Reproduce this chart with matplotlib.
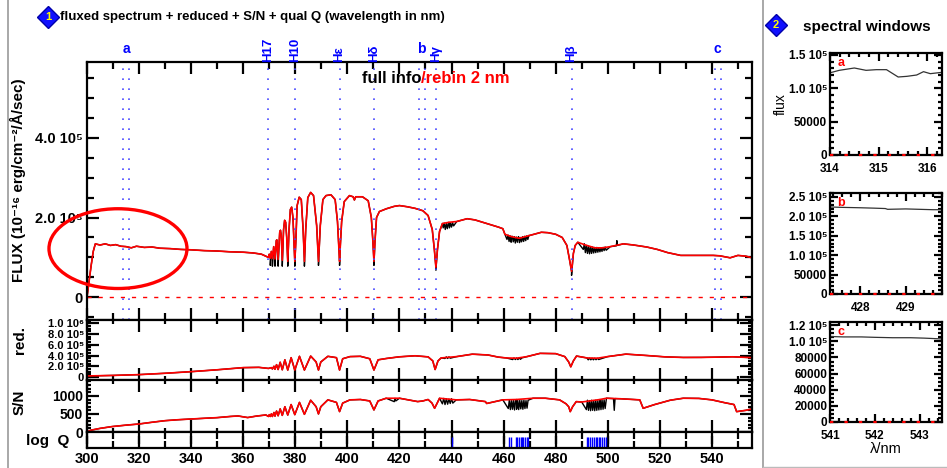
import matplotlib
matplotlib.use("Agg")
import matplotlib.pyplot as plt
import numpy as np
from matplotlib.ticker import MultipleLocator, FuncFormatter, NullFormatter
from matplotlib.patches import Ellipse
from matplotlib.lines import Line2D

plt.rcParams['font.family'] = ['Liberation Sans', 'DejaVu Sans']
plt.rcParams['font.weight'] = 'bold'

W, H = 947, 468

# ---- rebinned flux (units of 1e5) ----
flux_wl = [300.0, 300.8, 301.6, 302.4, 303.2, 305.0, 307.0, 309.0, 311.0, 313.0, 315.0, 317.0,
           319.0, 322.0, 325.0, 328.0, 332.0, 336.0, 340.0, 345.0, 350.0, 355.0, 360.0, 364.0,
           367.0, 369.7, 370.0, 370.4, 370.8, 371.2, 371.7, 372.2, 372.7, 372.9, 373.4, 374.0,
           374.3, 374.6, 375.0, 375.5, 375.9, 376.3, 376.7, 377.1, 377.6, 378.1, 378.6, 379.1,
           379.5, 379.8, 380.2, 380.7, 381.5, 382.3, 383.0, 383.5, 384.0, 384.8, 385.9, 387.0,
           388.2, 388.9, 389.6, 390.6, 391.8, 393.7, 395.3, 396.2, 396.7, 397.0, 397.3, 397.8,
           398.8, 400.8, 402.2, 402.7, 403.2, 405.8, 408.0, 409.2, 409.8, 410.2, 410.6, 411.2,
           412.3, 415.0, 418.0, 420.0, 423.0, 426.0, 429.0, 431.0, 432.6, 433.4, 434.0, 434.6,
           435.4, 436.5, 439.0, 442.0, 446.0, 449.0, 452.0, 455.0, 458.0, 459.7, 460.5, 463.0,
           466.0, 470.0, 474.5, 477.0, 480.0, 482.5, 484.3, 485.3, 486.1, 486.8, 487.5, 488.5,
           491.0, 495.0, 498.0, 501.0, 506.0, 510.0, 515.0, 519.0, 523.0, 528.0, 535.0, 540.5,
           543.0, 547.0, 550.0, 553.0, 555.5]
flux_val = [0.00, 0.40, 0.80, 1.15, 1.34, 1.31, 1.34, 1.30, 1.32, 1.28, 1.27, 1.24,
            1.28, 1.25, 1.26, 1.23, 1.22, 1.20, 1.19, 1.17, 1.16, 1.14, 1.13, 1.11,
            1.08, 1.00, 1.08, 0.98, 1.15, 0.97, 1.27, 0.96, 1.42, 1.44, 0.95, 1.62,
            1.68, 1.55, 0.93, 1.70, 1.93, 1.88, 1.50, 0.90, 1.70, 2.20, 2.26, 2.00,
            1.40, 0.90, 1.40, 2.30, 2.51, 2.45, 1.70, 0.90, 1.70, 2.50, 2.63, 2.55,
            1.80, 0.90, 1.80, 2.45, 2.55, 2.57, 2.45, 1.90, 1.30, 0.90, 1.30, 1.90,
            2.40, 2.55, 2.52, 2.44, 2.52, 2.52, 2.42, 2.00, 1.40, 0.90, 1.40, 2.00,
            2.15, 2.22, 2.28, 2.30, 2.27, 2.23, 2.17, 2.05, 1.70, 1.20, 0.75, 1.20,
            1.65, 1.85, 1.88, 1.90, 1.97, 1.94, 1.88, 1.82, 1.76, 1.72, 1.58, 1.52,
            1.48, 1.55, 1.63, 1.62, 1.58, 1.50, 1.30, 0.95, 0.65, 1.10, 1.30, 1.38,
            1.32, 1.24, 1.24, 1.27, 1.34, 1.31, 1.26, 1.20, 1.12, 1.05, 1.05, 1.05,
            1.04, 0.99, 1.05, 1.03, 0.99]
# extra full-resolution points (noise, deeper line cores), units of 1e5
flux_noise_wl = [370.4, 371.2, 372.2, 373.4, 375.0, 377.1, 379.8, 383.5, 388.9, 397.0, 410.2,
                 434.0, 436.8, 437.2, 437.6, 438.0, 438.4, 438.8, 439.2, 439.6, 440.0, 440.4,
                 440.8, 461.3, 461.7, 462.1, 462.5, 462.9, 463.3, 463.7, 464.1, 464.5, 464.9,
                 465.3, 465.7, 466.1, 466.5, 466.9, 467.3, 467.7, 468.1, 468.5, 468.9, 469.3,
                 469.7, 486.1, 490.6, 491.0, 491.4, 491.8, 492.2, 492.6, 493.0, 493.4, 493.8,
                 494.2, 494.6, 495.0, 495.4, 495.8, 496.2, 496.6, 497.0, 497.4, 497.8, 498.2,
                 498.6, 499.0, 499.4, 503.3, 503.5, 503.7]
flux_noise_val = [0.80, 0.78, 0.78, 0.78, 0.78, 0.78, 0.78, 0.78, 0.80, 0.80, 0.80,
                  0.68, 1.74, 1.86, 1.70, 1.85, 1.72, 1.87, 1.74, 1.86, 1.76, 1.87,
                  1.79, 1.45, 1.56, 1.40, 1.54, 1.38, 1.53, 1.39, 1.52, 1.36, 1.51,
                  1.38, 1.52, 1.37, 1.50, 1.39, 1.52, 1.40, 1.53, 1.42, 1.54, 1.45,
                  1.55, 0.55, 1.20, 1.34, 1.12, 1.30, 1.10, 1.28, 1.09, 1.27, 1.10,
                  1.26, 1.11, 1.25, 1.12, 1.25, 1.13, 1.24, 1.14, 1.24, 1.15, 1.25,
                  1.17, 1.26, 1.18, 1.29, 1.42, 1.30]

# ---- reduced spectrum (units of 1e5) ----
red_wl = [300, 310, 320, 330, 340, 350, 360, 366, 369.7, 370.8, 371.2, 371.8, 372.2, 372.8,
          373.4, 374.2, 375.0, 376.0, 377.1, 378.4, 379.8, 381.6, 383.5, 385.9, 388.0, 388.9,
          389.8, 392.5, 395.8, 397.0, 398.2, 401.0, 405.0, 408.6, 410.2, 411.8, 415.0, 420.0,
          426.0, 431.0, 432.8, 433.7, 434.8, 436.0, 442.0, 448.0, 454.0, 458.0, 461.0, 465.0,
          469.0, 474.0, 480.0, 483.5, 485.0, 485.8, 486.8, 488.0, 492.0, 496.0, 500.0, 507.0,
          515.0, 522.0, 529.0, 536.0, 542.0, 548.0, 555.5]
red_val = [0.20, 0.30, 0.45, 0.70, 1.00, 1.35, 1.75, 1.80, 1.60, 1.75, 1.50, 2.00, 1.45, 2.30,
           1.40, 2.75, 1.35, 3.20, 1.30, 3.60, 1.30, 3.85, 1.30, 3.90, 2.80, 1.30,
           2.80, 3.85, 3.60, 1.30, 3.40, 3.80, 3.85, 3.40, 1.30, 3.20, 3.45, 3.76,
           3.95, 3.75, 3.00, 1.40, 3.00, 3.55, 3.80, 4.25, 4.10, 3.70, 3.55, 3.50,
           3.80, 4.40, 4.35, 3.80, 2.80, 1.90, 3.00, 3.90, 3.55, 3.50, 3.80, 4.26,
           4.00, 3.75, 3.64, 3.65, 3.70, 3.76, 3.60]
red_noise_wl = [437.5, 438.0, 438.5, 439.0, 439.5, 463.5, 464.0, 464.5, 465.0, 465.5, 466.0,
                466.5, 467.0, 492.5, 493.0, 493.5, 494.0, 494.5, 495.0, 495.5, 496.0, 496.5]
red_noise_val = [3.45, 3.75, 3.45, 3.75, 3.50, 3.25, 3.55, 3.25, 3.55, 3.25, 3.55,
                 3.30, 3.55, 3.20, 3.50, 3.20, 3.50, 3.20, 3.50, 3.22, 3.50, 3.25]

# ---- S/N ----
sn_wl = [300, 301.5, 305, 309.6, 315, 320, 325, 330, 335, 340, 345, 350, 355, 358, 361.7, 365,
         368.7, 369.7, 370.0, 370.4, 370.8, 371.2, 371.8, 372.2, 372.8, 373.4, 374.2, 375.0,
         376.0, 377.1, 378.4, 379.8, 381.6, 383.5, 385.9, 388.0, 388.9, 389.8, 392.5, 395.8,
         397.0, 398.2, 401.0, 405.0, 408.6, 410.2, 411.8, 414.9, 420.0, 427.0, 429.0, 431.0,
         432.5, 433.5, 434.5, 435.4, 441.8, 447.0, 453.0, 453.5, 456.0, 459.7, 465.0, 471.3,
         476.0, 481.5, 484.0, 485.0, 485.6, 486.5, 487.9, 490.0, 497.0, 499.5, 505.0, 512.3,
         513.6, 518.0, 524.0, 529.0, 535.0, 540.0, 543.0, 545.0, 548.5, 549.5, 553.0, 555.5]
sn_val = [0, 50, 100, 150, 190, 222, 270, 314, 340, 360, 380, 398, 430, 444, 400, 440,
          472, 430, 480, 430, 500, 430, 540, 440, 580, 450, 640, 460,
          700, 470, 760, 480, 820, 490, 880, 700, 500, 700, 890, 820,
          565, 800, 890, 900, 860, 611, 860, 935, 935, 842, 860, 900,
          800, 657, 800, 935, 890, 900, 842, 790, 830, 890, 900, 935,
          935, 890, 780, 700, 564, 700, 842, 830, 900, 935, 920, 890,
          657, 760, 880, 935, 930, 890, 842, 810, 760, 564, 600, 640]
sn_noise_wl = [418.0, 418.3, 418.6, 436.5, 437.0, 437.5, 438.0, 438.5, 439.0, 439.5, 440.0,
               440.5, 461.8, 462.2, 462.6, 463.0, 463.4, 463.8, 464.2, 464.6, 465.0, 465.4,
               465.8, 466.2, 466.6, 467.0, 467.4, 467.8, 468.2, 468.6, 469.0, 469.4,
               491.8, 492.2, 492.6, 493.0, 493.4, 493.8, 494.2, 494.6, 495.0, 495.4, 495.8,
               496.2, 496.6, 497.0, 497.4, 497.8, 498.2, 498.6, 499.0, 502.2, 502.5, 502.8]
sn_noise_val = [840, 930, 860, 780, 930, 760, 920, 770, 910, 790, 920,
                800, 650, 880, 620, 870, 630, 880, 610, 870, 630, 880,
                620, 880, 640, 870, 630, 880, 650, 870, 660, 880,
                620, 880, 600, 870, 590, 880, 600, 870, 590, 880, 600,
                870, 610, 880, 620, 890, 630, 890, 650, 925, 600, 925]

# ---- quality flags ----
q_wl = [440.0, 462.2, 463.0, 464.6, 465.2, 465.8, 466.5, 467.0, 467.6, 468.2, 468.8, 469.4,
        492.0, 492.6, 493.3, 494.0, 494.6, 495.3, 496.0, 496.6, 497.2, 497.9, 498.6, 499.3]
q_val = [1.0] * len(q_wl)

# ---- spectral windows (flux units of 1e5) ----
win_a_wl = [314.0, 314.19, 314.5, 314.74, 314.95, 315.16, 315.4, 315.58, 315.78, 315.92, 316.06, 316.3]
win_a_val = [1.233, 1.27, 1.305, 1.27, 1.28, 1.28, 1.17, 1.18, 1.20, 1.25, 1.22, 1.24]
win_b_wl = [427.33, 427.6, 428.0, 428.3, 428.55, 428.6, 429.0, 429.3, 429.6, 429.8]
win_b_val = [2.24, 2.23, 2.22, 2.21, 2.20, 2.18, 2.19, 2.18, 2.17, 2.17]
win_c_wl = [541.0, 541.3, 541.7, 542.0, 542.4, 542.8, 543.1, 543.5]
win_c_val = [1.06, 1.055, 1.055, 1.05, 1.045, 1.045, 1.04, 1.03]

windows = {'a': (314.0, 316.3), 'b': (427.33, 429.8), 'c': (541.0, 543.5)}
lines = {'H17': 369.7, 'H10': 379.8, 'Hε': 397.0, 'Hδ': 410.2, 'Hγ': 434.0, 'Hβ': 486.1}

SUP = str.maketrans('0123456789-', '⁰¹²³⁴⁵⁶⁷⁸⁹⁻')


def sci_fmt(v, pos):
    if abs(v) < 1e-6:
        return '0'
    if abs(v) < 9.99e4:
        return '%d' % round(v)
    e = int(np.floor(np.log10(abs(v)) + 1e-9))
    return '%.1f 10%s' % (v / 10 ** e, str(e).translate(SUP))


fig = plt.figure(figsize=(W / 100, H / 100), dpi=100)


def px_axes(l, t, r, b):
    return fig.add_axes([l / W, 1 - b / H, (r - l) / W, (b - t) / H])


def style(ax, xmaj, xmin, ymaj=None, ymin=None, big=8.5, small=5):
    for s in ax.spines.values():
        s.set_linewidth(1.6)
    ax.xaxis.set_major_locator(MultipleLocator(xmaj))
    ax.xaxis.set_minor_locator(MultipleLocator(xmin))
    if ymaj:
        ax.yaxis.set_major_locator(MultipleLocator(ymaj))
        ax.yaxis.set_minor_locator(MultipleLocator(ymin))
    ax.tick_params(which='both', direction='in', top=True, right=True, width=1.6, pad=2)
    ax.tick_params(which='major', length=big)
    ax.tick_params(which='minor', length=small)


XMIN, XMAX = 300, 555.4

# ---------------- main flux panel ----------------
ax = px_axes(87, 62, 752, 320)
wl_full = np.array(flux_wl + flux_noise_wl)
fv_full = np.array(flux_val + flux_noise_val)
o = np.argsort(wl_full, kind='stable')
ax.plot(wl_full[o], fv_full[o] * 1e5, color='black', lw=1.0)
ax.plot(flux_wl, np.array(flux_val) * 1e5, color='red', lw=1.2)
ax.axhline(0, color='red', lw=1.0, ls=(0, (3, 5)))
for k, (w1, w2) in windows.items():
    for w in (w1, w2):
        ax.axvline(w, color='#4a4aff', lw=1.2, ls=(0, (1, 5)))
    ax.text((w1 + w2) / 2, 1.025, k, transform=ax.get_xaxis_transform(), color='blue',
            fontsize=10, ha='center', va='bottom')
for name, w in lines.items():
    ax.axvline(w, color='#4a4aff', lw=1.2, ls=(0, (1, 5)))
    ax.text(w, 1.0, name, transform=ax.get_xaxis_transform(), color='blue', fontsize=9.5,
            rotation=90, ha='center', va='bottom')
ax.set_xlim(XMIN, XMAX)
ax.set_ylim(-0.57e5, 5.9e5)
style(ax, 20, 10, 2e5, 0.5e5, big=8.5, small=5)
ax.xaxis.set_major_formatter(NullFormatter())
ax.yaxis.set_major_formatter(FuncFormatter(sci_fmt))
ax.tick_params(axis='y', labelsize=10.5, pad=3)
ax.text(0.503, 0.935, 'full info', transform=ax.transAxes, fontsize=12, color='black',
        ha='right', va='center')
ax.text(0.503, 0.935, '/rebin 2 nm', transform=ax.transAxes, fontsize=12, color='red',
        ha='left', va='center')
ax.add_patch(Ellipse((311.9, 1.22e5), 53, 2.0e5, fill=False, edgecolor='red', lw=2.4,
                     clip_on=False, zorder=5))

# ---------------- reduced panel ----------------
ax2 = px_axes(87, 320, 752, 380)
wl_r = np.array(red_wl + red_noise_wl, dtype=float)
rv_r = np.array(red_val + red_noise_val)
o = np.argsort(wl_r, kind='stable')
ax2.plot(wl_r[o], rv_r[o] * 1e5, color='black', lw=1.0)
ax2.plot(red_wl, np.array(red_val) * 1e5, color='red', lw=1.2)
ax2.set_xlim(XMIN, XMAX)
ax2.set_ylim(-0.055e6, 1.06e6)
style(ax2, 20, 10, 2e5, 0.5e5, big=8.5, small=3)
ax2.xaxis.set_major_formatter(NullFormatter())
ax2.yaxis.set_major_formatter(FuncFormatter(sci_fmt))
ax2.tick_params(axis='y', labelsize=8, pad=2)

# ---------------- S/N panel ----------------
ax3 = px_axes(87, 380, 752, 432)
wl_s = np.array(sn_wl + sn_noise_wl, dtype=float)
sv_s = np.array(sn_val + sn_noise_val, dtype=float)
o = np.argsort(wl_s, kind='stable')
ax3.plot(wl_s[o], sv_s[o], color='black', lw=1.0)
ax3.plot(sn_wl, sn_val, color='red', lw=1.2)
ax3.set_xlim(XMIN, XMAX)
ax3.set_ylim(0, 1440)
style(ax3, 20, 10, 500, 100, big=8.5, small=3)
ax3.xaxis.set_major_formatter(NullFormatter())
ax3.tick_params(axis='y', labelsize=10, pad=3)

# ---------------- log Q panel ----------------
ax4 = px_axes(87, 432, 752, 448)
ax4.vlines(q_wl, 0, q_val, color='blue', lw=1.0)
ax4.axhline(0, color='blue', lw=2.0)
ax4.set_xlim(XMIN, XMAX)
ax4.set_ylim(0, 1.45)
style(ax4, 20, 10, big=8.5, small=5)
ax4.set_yticks([])
ax4.tick_params(axis='x', labelsize=10.5, pad=3)

# axis labels for the left block
fig.text(18 / W, 1 - 180 / H, 'FLUX (10⁻¹⁶ erg/cm⁻²/Å/sec)', rotation=90, fontsize=11,
         ha='center', va='center')
fig.text(20 / W, 1 - 340 / H, 'red.', rotation=90, fontsize=11, ha='center', va='center')
fig.text(20 / W, 1 - 402 / H, 'S/N', rotation=90, fontsize=11, ha='center', va='center')
fig.text(26 / W, 1 - 441 / H, 'log  Q', fontsize=11, ha='left', va='center')

# ---------------- spectral windows ----------------
win_specs = [('a', win_a_wl, win_a_val, (53, 155), 1.53e5, 50000, 10000),
             ('b', win_b_wl, win_b_val, (193, 294), 2.6e5, 50000, 10000),
             ('c', win_c_wl, win_c_val, (322, 422), 1.24e5, 20000, 5000)]
for k, wl, fv, (t, b), ytop, ymaj, ymin in win_specs:
    axw = px_axes(830, t, 942, b)
    axw.plot(wl, np.array(fv) * 1e5, color='#333333', lw=0.9)
    axw.axhline(0, color='red', lw=1.6, ls=(0, (1.5, 5)), zorder=4, clip_on=False)
    axw.set_xlim(*windows[k])
    axw.set_ylim(0, ytop)
    style(axw, 1, 0.2, ymaj, ymin, big=6, small=3)
    axw.yaxis.set_major_formatter(FuncFormatter(sci_fmt))
    axw.tick_params(labelsize=8.5, pad=2)
    axw.tick_params(axis='x', pad=6)
    axw.text(0.1, 0.9, k, transform=axw.transAxes, color='red', fontsize=9,
             ha='center', va='center')
    if k == 'a':
        axw.set_ylabel('flux', fontsize=10, labelpad=1)
    if k == 'c':
        axw.set_xlabel('λ/nm', fontsize=10.5, labelpad=0)

# ---------------- titles and frame ----------------
for (cx, cy, num) in [(48, 17, '1'), (776, 25, '2')]:
    fig.add_artist(Line2D([cx / W], [1 - cy / H], marker='D', markersize=11,
                          markerfacecolor='#1010ff', markeredgecolor='#0000aa',
                          transform=fig.transFigure))
    fig.text(cx / W, 1 - cy / H, num, color='yellow', fontsize=8, ha='center', va='center')
fig.text(60 / W, 1 - 17 / H, 'fluxed spectrum + reduced + S/N + qual Q (wavelength in nm)',
         fontsize=9.5, ha='left', va='center')
fig.text(803 / W, 1 - 27 / H, 'spectral windows', fontsize=11, ha='left', va='center')
fig.add_artist(Line2D([8 / W, 8 / W], [0, 1], color='#999999', lw=1.2, transform=fig.transFigure))
fig.add_artist(Line2D([763 / W, 763 / W], [0, 1], color='#999999', lw=1.2,
                      transform=fig.transFigure))
fig.add_artist(Line2D([763 / W, 1], [1 / H, 1 / H], color='#bbbbbb', lw=1.0,
                      transform=fig.transFigure))

fig.savefig('out.png', dpi=100)
